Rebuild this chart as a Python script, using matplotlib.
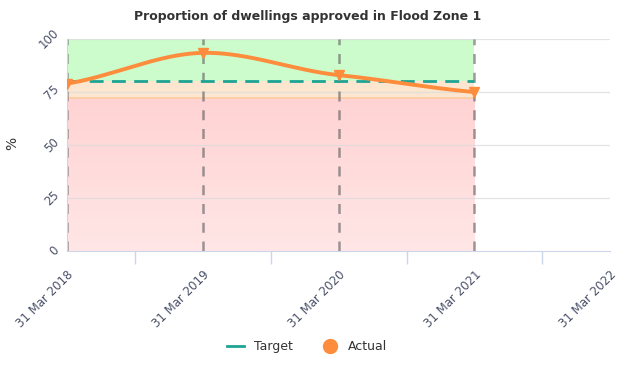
import numpy as np
import matplotlib
matplotlib.use("Agg")
from matplotlib import pyplot as plt
import matplotlib.dates as mdates
import matplotlib.transforms as mtransforms
from matplotlib.lines import Line2D
from datetime import datetime

# data
dates = ["2018-03-31", "2019-03-31", "2020-03-31", "2021-03-31"]
actual = [79, 93.5, 83, 75]
target = [80, 80, 80, 80]
amber_floor = 72
tick_years = ["2018", "2019", "2020", "2021", "2022"]


def spline(x, y, n=60):
    """cardinal-style cubic hermite through the points"""
    x = np.asarray(x, float)
    y = np.asarray(y, float)
    m = np.zeros_like(y)
    for i in range(len(x)):
        if 0 < i < len(x) - 1:
            m[i] = (y[i + 1] - y[i - 1]) / (x[i + 1] - x[i - 1])
        elif i == 0:
            m[i] = (y[1] - y[0]) / (x[1] - x[0])
        else:
            m[i] = (y[-1] - y[-2]) / (x[-1] - x[-2])
    xs, ys = [], []
    for i in range(len(x) - 1):
        h = x[i + 1] - x[i]
        t = np.linspace(0, 1, n)
        h00 = 2 * t**3 - 3 * t**2 + 1
        h10 = t**3 - 2 * t**2 + t
        h01 = -2 * t**3 + 3 * t**2
        h11 = t**3 - t**2
        xs.append(x[i] + t * h)
        ys.append(h00 * y[i] + h10 * h * m[i] * 0.7 + h01 * y[i + 1] + h11 * h * m[i + 1] * 0.7)
    return np.concatenate(xs), np.concatenate(ys)


xd = mdates.date2num([datetime.strptime(d, "%Y-%m-%d") for d in dates])
x_ticks = mdates.date2num([datetime(int(y), 3, 31) for y in tick_years])
x_mid = (x_ticks[:-1] + x_ticks[1:]) / 2

fig = plt.figure(figsize=(6.27, 3.65), dpi=100)
ax = fig.add_axes([0.107, 0.312, 0.866, 0.581])

x0, x1 = xd[0], xd[-1]
# background bands
ax.fill_between([x0, x1], 80, 100, color="#ccfccc", lw=0, zorder=0)
ax.fill_between([x0, x1], amber_floor, 80, color="#fde6cf", lw=0, zorder=0)
grad = np.linspace(0, 1, 100).reshape(-1, 1)
cmap = matplotlib.colors.LinearSegmentedColormap.from_list("pk", ["#ffe6e6", "#ffd3d3"])
ax.imshow(grad, extent=[x0, x1, 0, amber_floor], origin="lower", aspect="auto",
          cmap=cmap, zorder=0)
ax.plot([x0, x1], [amber_floor, amber_floor], color="#fdcba0", lw=1.2, zorder=1)

# grid
for yv in [25, 50, 75, 100]:
    ax.axhline(yv, color="#dcdcdc", lw=0.9, alpha=0.8, zorder=1)

# vertical dashed lines at each point
for xv in xd:
    ax.plot([xv, xv], [0, 100], color="#5a5a5a", alpha=0.6, lw=1.8,
            dashes=(4, 3.5), zorder=2)

# target
ax.plot(xd, target, color="#1fa394", lw=2, dashes=(5, 3), zorder=3)

# actual
sx, sy = spline(xd, actual)
ax.plot(sx, sy, color="#fd8c3c", lw=2.8, zorder=4, solid_capstyle="round")
ax.plot(xd, actual, ls="none", marker="v", ms=7, color="#fd8c3c", zorder=5)

ax.set_xlim(x_ticks[0], x_ticks[-1])
ax.set_ylim(0, 100)
ax.set_yticks([0, 25, 50, 75, 100])
ax.set_yticklabels(["0", "25", "50", "75", "100"], rotation=45, color="#4a5068",
                   fontsize=8.5, va="center", ha="right")
ax.set_xticks(x_ticks)
ax.set_xticklabels(["31 Mar " + y for y in tick_years], rotation=45, ha="right",
                   rotation_mode="anchor", color="#4a5068", fontsize=8.5)
shift = mtransforms.ScaledTranslation(-5 / 100, 0, fig.dpi_scale_trans)
for lab in ax.get_xticklabels():
    lab.set_transform(lab.get_transform() + shift)
ax.set_xticks(x_mid, minor=True)
ax.tick_params(axis="x", which="major", length=0, pad=12)
ax.tick_params(axis="x", which="minor", length=9, color="#ccd6eb", width=1)
ax.tick_params(axis="y", length=0, pad=4)

for s in ["top", "right"]:
    ax.spines[s].set_visible(False)
ax.spines["bottom"].set_color("#ccd6eb")
ax.spines["left"].set_color("#ccd6eb")

ax.set_ylabel("%", color="#333333", fontsize=10)
ax.yaxis.set_label_coords(-0.088, 0.51)
fig.text(0.49, 0.955, "Proportion of dwellings approved in Flood Zone 1",
         ha="center", va="center", fontsize=9, fontweight="bold", color="#333333")

handles = [Line2D([0], [0], color="#1fa394", lw=2),
           Line2D([0], [0], ls="none", marker="o", ms=10, color="#fd8c3c")]
fig.legend(handles, ["Target", "Actual"], loc="center", bbox_to_anchor=(0.49, 0.05),
           ncol=2, frameon=False, fontsize=9, handlelength=1.4, columnspacing=2.2,
           labelcolor="#333333")

fig.savefig("out.png", dpi=100)
